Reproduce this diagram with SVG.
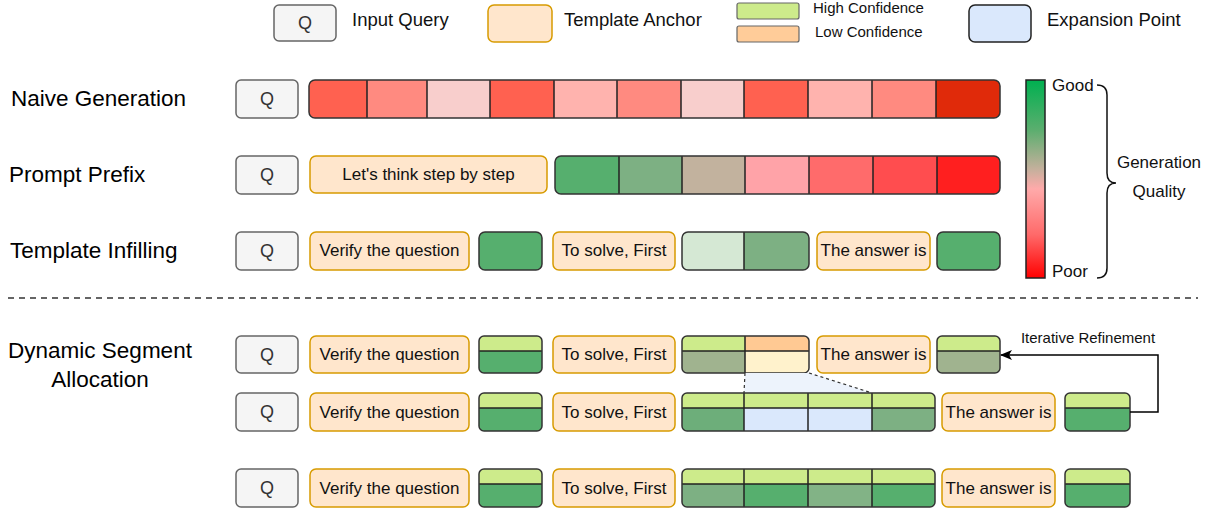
<svg xmlns="http://www.w3.org/2000/svg" width="1215" height="508" viewBox="0 0 1215 508">
  <style>
    text { font-family: "Liberation Sans", Arial, sans-serif; }
    .q { fill: #f5f5f5; stroke: #666; stroke-width: 1.5; }
    .qt { font-size: 18px; fill: #333; text-anchor: middle; }
    .anchor { fill: #ffe6cc; stroke: #d79b00; stroke-width: 1.5; }
    .at { font-size: 17px; fill: #111; text-anchor: middle; }
    .frame { fill: none; stroke: #333; stroke-width: 1.5; }
    .div { stroke: #222; stroke-width: 1.5; }
    .lbl { font-size: 22.5px; fill: #000; }
    .leg { font-size: 18.5px; fill: #111; }
    .small { font-size: 15px; fill: #111; }
    .hi { fill: #cdeb8b; }
    .g1 { fill: #56af6e; }
    .g2 { fill: #7db083; }
    .g3 { fill: #a0b38f; }
  </style>
  <defs>
    <linearGradient id="quality" x1="0" y1="0" x2="0" y2="1">
      <stop offset="0" stop-color="#00b050"/>
      <stop offset="0.25" stop-color="#5aae6e"/>
      <stop offset="0.45" stop-color="#c4b09c"/>
      <stop offset="0.55" stop-color="#ffaaaa"/>
      <stop offset="0.78" stop-color="#ff6a6a"/>
      <stop offset="1" stop-color="#ff0000"/>
    </linearGradient>
    <clipPath id="cpNaive"><rect x="309" y="80" width="691" height="38" rx="6"/></clipPath>
    <clipPath id="cpPrefix"><rect x="555" y="156" width="445" height="38" rx="6"/></clipPath>
    <clipPath id="cpTI"><rect x="682" y="232" width="127" height="38" rx="6"/></clipPath>
    <clipPath id="cpD1a"><rect x="479" y="336" width="63" height="37" rx="5"/></clipPath>
    <clipPath id="cpD1b"><rect x="682" y="336" width="127" height="37" rx="5"/></clipPath>
    <clipPath id="cpD1c"><rect x="937" y="336" width="63" height="37" rx="5"/></clipPath>
    <clipPath id="cpD2a"><rect x="479" y="393" width="63" height="38" rx="5"/></clipPath>
    <clipPath id="cpD2b"><rect x="682" y="393" width="253" height="38" rx="5"/></clipPath>
    <clipPath id="cpD2c"><rect x="1065" y="393" width="65" height="38" rx="5"/></clipPath>
    <clipPath id="cpD3a"><rect x="479" y="469" width="63" height="38" rx="5"/></clipPath>
    <clipPath id="cpD3b"><rect x="682" y="469" width="253" height="38" rx="5"/></clipPath>
    <clipPath id="cpD3c"><rect x="1065" y="469" width="65" height="38" rx="5"/></clipPath>
    <marker id="arrow" viewBox="0 0 12 10" refX="11" refY="5" markerWidth="12" markerHeight="10" markerUnits="userSpaceOnUse" orient="auto">
      <path d="M0,0 L12,5 L0,10 L3,5 Z" fill="#000"/>
    </marker>
  </defs>

  <!-- Legend -->
  <g id="legend">
    <rect class="q" x="274" y="5" width="62" height="36" rx="5"/>
    <text class="qt" x="305" y="29">Q</text>
    <text class="leg" x="352" y="26">Input Query</text>
    <rect class="anchor" x="488" y="5" width="64" height="37" rx="6"/>
    <text class="leg" x="564" y="26">Template Anchor</text>
    <rect x="737" y="3" width="62" height="16" rx="2" fill="#cdeb8b" stroke="#666" stroke-width="1.2"/>
    <rect x="737" y="26" width="62" height="16" rx="2" fill="#ffcc99" stroke="#666" stroke-width="1.2"/>
    <text class="small" x="813" y="13">High Confidence</text>
    <text class="small" x="815" y="37">Low Confidence</text>
    <rect x="969" y="5" width="62" height="37" rx="6" fill="#dae8fc" stroke="#222" stroke-width="1.5"/>
    <text class="leg" x="1047" y="26">Expansion Point</text>
  </g>

  <!-- Row labels -->
  <g id="row-labels">
    <text class="lbl" x="11" y="106">Naive Generation</text>
    <text class="lbl" x="9" y="182">Prompt Prefix</text>
    <text class="lbl" x="10" y="258">Template Infilling</text>
    <text class="lbl" x="100" y="358" text-anchor="middle">Dynamic Segment</text>
    <text class="lbl" x="100" y="387" text-anchor="middle">Allocation</text>
  </g>

  <!-- Naive generation -->
  <g id="naive-q">
    <rect class="q" x="236" y="80" width="62" height="38" rx="5"/>
    <text class="qt" x="267" y="105">Q</text>
  </g>
  <g id="naive-tokens">
    <g clip-path="url(#cpNaive)">
      <rect x="309" y="80" width="58" height="38" fill="#ff6150"/>
      <rect x="367" y="80" width="60" height="38" fill="#ff8a80"/>
      <rect x="427" y="80" width="63" height="38" fill="#f8cecc"/>
      <rect x="490" y="80" width="64" height="38" fill="#ff6150"/>
      <rect x="554" y="80" width="63" height="38" fill="#ffb3ae"/>
      <rect x="617" y="80" width="64" height="38" fill="#ff8a80"/>
      <rect x="681" y="80" width="63" height="38" fill="#f8cecc"/>
      <rect x="744" y="80" width="64" height="38" fill="#ff6150"/>
      <rect x="808" y="80" width="64" height="38" fill="#ffb3ae"/>
      <rect x="872" y="80" width="64" height="38" fill="#ff8a80"/>
      <rect x="936" y="80" width="64" height="38" fill="#e02a0a"/>
    </g>
    <path class="div" d="M367,80V118M427,80V118M490,80V118M554,80V118M617,80V118M681,80V118M744,80V118M808,80V118M872,80V118M936,80V118"/>
    <rect class="frame" x="309" y="80" width="691" height="38" rx="6"/>
  </g>

  <!-- Prompt prefix -->
  <g id="prefix-q">
    <rect class="q" x="236" y="156" width="62" height="38" rx="5"/>
    <text class="qt" x="267" y="181">Q</text>
  </g>
  <g id="prefix-anchor">
    <rect class="anchor" x="310" y="156" width="237" height="37" rx="6"/>
    <text class="at" x="428.5" y="180">Let's think step by step</text>
  </g>
  <g id="prefix-tokens">
    <g clip-path="url(#cpPrefix)">
      <rect x="555" y="156" width="64" height="38" fill="#56af6e"/>
      <rect x="619" y="156" width="63" height="38" fill="#7db083"/>
      <rect x="682" y="156" width="63" height="38" fill="#c2b29e"/>
      <rect x="745" y="156" width="64" height="38" fill="#ffa3a8"/>
      <rect x="809" y="156" width="64" height="38" fill="#ff6b6b"/>
      <rect x="873" y="156" width="64" height="38" fill="#ff4d4f"/>
      <rect x="937" y="156" width="63" height="38" fill="#ff1f1f"/>
    </g>
    <path class="div" d="M619,156V194M682,156V194M745,156V194M809,156V194M873,156V194M937,156V194"/>
    <rect class="frame" x="555" y="156" width="445" height="38" rx="6"/>
  </g>

  <!-- Template infilling -->
  <g id="infill-q">
    <rect class="q" x="236" y="232" width="62" height="38" rx="5"/>
    <text class="qt" x="267" y="257">Q</text>
  </g>
  <g id="infill-anchor-1">
    <rect class="anchor" x="310" y="232" width="159" height="38" rx="6"/>
    <text class="at" x="389.5" y="256">Verify the question</text>
  </g>
  <g id="infill-seg-1">
    <rect class="g1" x="479" y="232" width="63" height="38" rx="6" stroke="#333" stroke-width="1.5"/>
  </g>
  <g id="infill-anchor-2">
    <rect class="anchor" x="553" y="232" width="122" height="38" rx="6"/>
    <text class="at" x="614" y="256">To solve, First</text>
  </g>
  <g id="infill-seg-2">
    <g clip-path="url(#cpTI)">
      <rect x="682" y="232" width="62" height="38" fill="#d5e8d4"/>
      <rect class="g2" x="744" y="232" width="65" height="38"/>
    </g>
    <path class="div" d="M744,232V270"/>
    <rect class="frame" x="682" y="232" width="127" height="38" rx="6" stroke="#555"/>
  </g>
  <g id="infill-anchor-3">
    <rect class="anchor" x="817" y="232" width="113" height="38" rx="6"/>
    <text class="at" x="873.5" y="256">The answer is</text>
  </g>
  <g id="infill-seg-3">
    <rect class="g1" x="937" y="232" width="63" height="38" rx="6" stroke="#333" stroke-width="1.5"/>
  </g>

  <!-- Quality scale -->
  <g id="quality-scale">
    <rect x="1026" y="80" width="19" height="198" fill="url(#quality)" stroke="#222" stroke-width="1.5"/>
    <text x="1052" y="91" font-size="17" fill="#111">Good</text>
    <text x="1052" y="277" font-size="17" fill="#111">Poor</text>
    <path d="M1097,85 Q1107,85 1107,95 L1107,173 Q1107,183 1116,183 Q1107,183 1107,193 L1107,268 Q1107,278 1097,278" fill="none" stroke="#111" stroke-width="1.5"/>
    <text x="1159" y="168" font-size="17" fill="#111" text-anchor="middle">Generation</text>
    <text x="1159" y="197" font-size="17" fill="#111" text-anchor="middle">Quality</text>
  </g>

  <!-- Separator -->
  <line x1="8" y1="298" x2="1198" y2="298" stroke="#333" stroke-width="1.5" stroke-dasharray="6 5"/>

  <!-- Dynamic segment allocation, step 1 -->
  <g id="dsa1-q">
    <rect class="q" x="236" y="336" width="62" height="37" rx="5"/>
    <text class="qt" x="267" y="361">Q</text>
  </g>
  <g id="dsa1-anchor-1">
    <rect class="anchor" x="310" y="336" width="159" height="37" rx="6"/>
    <text class="at" x="389.5" y="360">Verify the question</text>
  </g>
  <g id="dsa1-seg-1">
    <g clip-path="url(#cpD1a)">
      <rect class="hi" x="479" y="336" width="63" height="15"/>
      <rect class="g1" x="479" y="351" width="63" height="22"/>
    </g>
    <path class="div" d="M479,351H542"/>
    <rect class="frame" x="479" y="336" width="63" height="37" rx="5"/>
  </g>
  <g id="dsa1-anchor-2">
    <rect class="anchor" x="553" y="336" width="122" height="37" rx="6"/>
    <text class="at" x="614" y="360">To solve, First</text>
  </g>
  <g id="dsa1-seg-2">
    <g clip-path="url(#cpD1b)">
      <rect class="hi" x="682" y="336" width="63" height="15"/>
      <rect class="g3" x="682" y="351" width="63" height="22"/>
      <rect x="745" y="336" width="64" height="15" fill="#ffc993"/>
      <rect x="745" y="351" width="64" height="22" fill="#fff2cc"/>
    </g>
    <path class="div" d="M682,351H809M745,336V373"/>
    <rect class="frame" x="682" y="336" width="127" height="37" rx="5"/>
  </g>
  <g id="dsa1-anchor-3">
    <rect class="anchor" x="817" y="336" width="113" height="37" rx="6"/>
    <text class="at" x="873.5" y="360">The answer is</text>
  </g>
  <g id="dsa1-seg-3">
    <g clip-path="url(#cpD1c)">
      <rect class="hi" x="937" y="336" width="63" height="15"/>
      <rect class="g3" x="937" y="351" width="63" height="22"/>
    </g>
    <path class="div" d="M937,351H1000"/>
    <rect class="frame" x="937" y="336" width="63" height="37" rx="5"/>
  </g>

  <!-- Expansion of the low-confidence segment -->
  <g id="expansion">
    <polygon points="745,373 809,373 872,393 744,393" fill="#edf3fc"/>
    <path d="M745,373L744,393M809,373L872,393" fill="none" stroke="#333" stroke-width="1.2" stroke-dasharray="3 3"/>
  </g>

  <!-- Dynamic segment allocation, step 2 -->
  <g id="dsa2-q">
    <rect class="q" x="236" y="393" width="62" height="38" rx="5"/>
    <text class="qt" x="267" y="418">Q</text>
  </g>
  <g id="dsa2-anchor-1">
    <rect class="anchor" x="310" y="393" width="159" height="38" rx="6"/>
    <text class="at" x="389.5" y="418">Verify the question</text>
  </g>
  <g id="dsa2-seg-1">
    <g clip-path="url(#cpD2a)">
      <rect class="hi" x="479" y="393" width="63" height="15"/>
      <rect class="g1" x="479" y="408" width="63" height="23"/>
    </g>
    <path class="div" d="M479,408H542"/>
    <rect class="frame" x="479" y="393" width="63" height="38" rx="5"/>
  </g>
  <g id="dsa2-anchor-2">
    <rect class="anchor" x="553" y="393" width="122" height="38" rx="6"/>
    <text class="at" x="614" y="418">To solve, First</text>
  </g>
  <g id="dsa2-seg-2">
    <g clip-path="url(#cpD2b)">
      <rect class="hi" x="682" y="393" width="253" height="15"/>
      <rect x="682" y="408" width="62" height="23" fill="#6dae7a"/>
      <rect x="744" y="408" width="128" height="23" fill="#dae8fc"/>
      <rect class="g2" x="872" y="408" width="63" height="23"/>
    </g>
    <path class="div" d="M682,408H935M744,393V431M808,393V431M872,393V431"/>
    <rect class="frame" x="682" y="393" width="253" height="38" rx="5"/>
  </g>
  <g id="dsa2-anchor-3">
    <rect class="anchor" x="942" y="393" width="113" height="38" rx="6"/>
    <text class="at" x="998.5" y="418">The answer is</text>
  </g>
  <g id="dsa2-seg-3">
    <g clip-path="url(#cpD2c)">
      <rect class="hi" x="1065" y="393" width="65" height="15"/>
      <rect class="g1" x="1065" y="408" width="65" height="23"/>
    </g>
    <path class="div" d="M1065,408H1130"/>
    <rect class="frame" x="1065" y="393" width="65" height="38" rx="5"/>
  </g>

  <!-- Dynamic segment allocation, step 3 -->
  <g id="dsa3-q">
    <rect class="q" x="236" y="469" width="62" height="38" rx="5"/>
    <text class="qt" x="267" y="494">Q</text>
  </g>
  <g id="dsa3-anchor-1">
    <rect class="anchor" x="310" y="469" width="159" height="38" rx="6"/>
    <text class="at" x="389.5" y="494">Verify the question</text>
  </g>
  <g id="dsa3-seg-1">
    <g clip-path="url(#cpD3a)">
      <rect class="hi" x="479" y="469" width="63" height="15"/>
      <rect class="g1" x="479" y="484" width="63" height="23"/>
    </g>
    <path class="div" d="M479,484H542"/>
    <rect class="frame" x="479" y="469" width="63" height="38" rx="5"/>
  </g>
  <g id="dsa3-anchor-2">
    <rect class="anchor" x="553" y="469" width="122" height="38" rx="6"/>
    <text class="at" x="614" y="494">To solve, First</text>
  </g>
  <g id="dsa3-seg-2">
    <g clip-path="url(#cpD3b)">
      <rect class="hi" x="682" y="469" width="253" height="15"/>
      <rect class="g2" x="682" y="484" width="62" height="23"/>
      <rect class="g1" x="744" y="484" width="64" height="23"/>
      <rect x="808" y="484" width="64" height="23" fill="#82b386"/>
      <rect class="g1" x="872" y="484" width="63" height="23"/>
    </g>
    <path class="div" d="M682,484H935M744,469V507M808,469V507M872,469V507"/>
    <rect class="frame" x="682" y="469" width="253" height="38" rx="5"/>
  </g>
  <g id="dsa3-anchor-3">
    <rect class="anchor" x="942" y="469" width="113" height="38" rx="6"/>
    <text class="at" x="998.5" y="494">The answer is</text>
  </g>
  <g id="dsa3-seg-3">
    <g clip-path="url(#cpD3c)">
      <rect class="hi" x="1065" y="469" width="65" height="15"/>
      <rect class="g1" x="1065" y="484" width="65" height="23"/>
    </g>
    <path class="div" d="M1065,484H1130"/>
    <rect class="frame" x="1065" y="469" width="65" height="38" rx="5"/>
  </g>

  <!-- Connectors -->
  <g id="connectors">
    <path d="M1130,412H1158V355H1001" fill="none" stroke="#000" stroke-width="1.5" marker-end="url(#arrow)"/>
    <text class="small" x="1088" y="343" text-anchor="middle">Iterative Refinement</text>
  </g>
</svg>
